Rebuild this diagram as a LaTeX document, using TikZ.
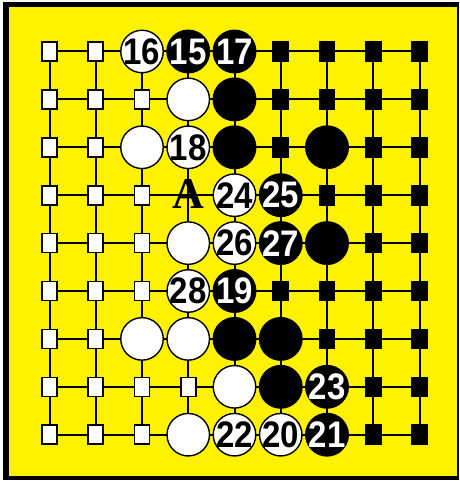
\documentclass[tikz,border=0pt]{standalone}
\usepackage{fontspec}
\setmainfont{Liberation Sans}
\newfontfamily\serifA{Liberation Serif}
\newcommand{\stonenum}[1]{\scalebox{1.0}[1.12]{#1}}
\tikzset{
  gridline/.style={line width=2pt, draw=black},
  wstone/.style={circle, draw=black, line width=1.4pt, fill=white, minimum size=42.5pt, inner sep=0pt},
  bstone/.style={circle, draw=black, line width=1.4pt, fill=black, minimum size=42.5pt, inner sep=0pt},
  wsq/.style={rectangle, draw=black, line width=1.6pt, fill=white, minimum width=15pt, minimum height=19pt, inner sep=0pt},
  bsq/.style={rectangle, draw=black, line width=1.6pt, fill=black, minimum width=15pt, minimum height=19pt, inner sep=0pt},
  wnum/.style={inner sep=0pt, text=black, font=\fontsize{33}{33}\selectfont\bfseries},
  bnum/.style={inner sep=0pt, text=white, font=\fontsize{33}{33}\selectfont\bfseries},
  alabel/.style={inner sep=0pt, text=black, font=\serifA\fontsize{44}{44}\selectfont\bfseries}
}
\begin{document}
\begin{tikzpicture}[x=1pt,y=-1pt]
\useasboundingbox (0,0) rectangle (459,481);
\fill[white] (0,0) rectangle (459,481);
\fill[black] (3,2) rectangle (459,480);
\fill[yellow] (9,7) rectangle (457,476);
% intersections
\foreach \i in {0,...,8}{
  \foreach \j in {0,...,8}{
    \coordinate (p-\i-\j) at ({49.5+46.25*\i},{51.5+47.9*\j});
  }
}
% grid lines
\foreach \j in {0,...,8}{ \draw[gridline] (p-0-\j) -- (p-8-\j); }
\foreach \i in {0,...,8}{ \draw[gridline] (p-\i-0) -- (p-\i-8); }
% white squares
\foreach \i/\j in {0/0,1/0, 0/1,1/1,2/1, 0/2,1/2, 0/3,1/3,2/3, 0/4,1/4,2/4, 0/5,1/5,2/5, 0/6,1/6, 0/7,1/7,2/7,3/7, 0/8,1/8,2/8}{
  \node[wsq] (q-\i-\j) at (p-\i-\j) {};
}
% black squares
\foreach \i/\j in {5/0,6/0,7/0,8/0, 5/1,6/1,7/1,8/1, 5/2,7/2,8/2, 6/3,7/3,8/3, 7/4,8/4, 5/5,6/5,7/5,8/5, 6/6,7/6,8/6, 7/7,8/7, 7/8,8/8}{
  \node[bsq] (q-\i-\j) at (p-\i-\j) {};
}
% plain white stones
\foreach \i/\j in {3/1, 2/2, 3/4, 2/6, 3/6, 4/7, 3/8}{
  \node[wstone] (s-\i-\j) at (p-\i-\j) {};
}
% plain black stones
\foreach \i/\j in {4/1, 4/2, 6/2, 6/4, 4/6, 5/6, 5/7}{
  \node[bstone] (s-\i-\j) at (p-\i-\j) {};
}
% numbered white stones
\foreach \i/\j/\n in {2/0/16, 3/2/18, 4/3/24, 4/4/26, 3/5/28, 4/8/22, 5/8/20}{
  \node[wstone] (s-\i-\j) at (p-\i-\j) {};
  \node[wnum] (t-\i-\j) at (s-\i-\j) {\stonenum{\n}};
}
% numbered black stones
\foreach \i/\j/\n in {3/0/15, 4/0/17, 5/3/25, 5/4/27, 4/5/19, 6/7/23, 6/8/21}{
  \node[bstone] (s-\i-\j) at (p-\i-\j) {};
  \node[bnum] (t-\i-\j) at (s-\i-\j) {\stonenum{\n}};
}
% label A
\node[alabel] (lab-A) at ([yshift=1pt]p-3-3) {A};
\end{tikzpicture}
\end{document}
